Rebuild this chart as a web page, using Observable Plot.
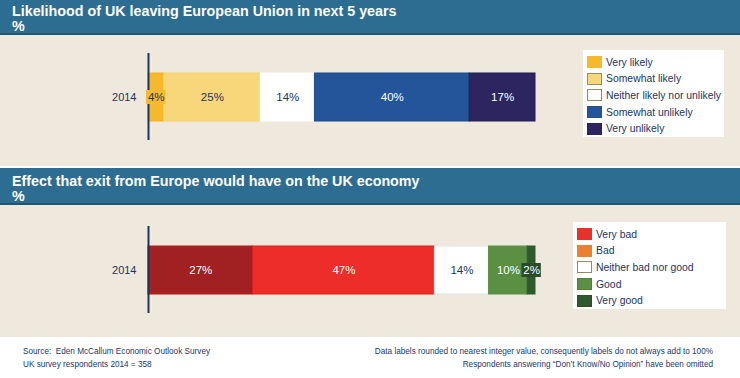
<!DOCTYPE html>
<html>
<head>
<meta charset="utf-8">
<script src="https://cdn.jsdelivr.net/npm/d3@7"></script>
<script src="https://cdn.jsdelivr.net/npm/@observablehq/plot@0.6"></script>
<style>
  html, body { margin: 0; padding: 0; }
  body { width: 740px; height: 378px; position: relative; overflow: hidden; background: #efe8dc; font-family: "Liberation Sans", Arial, sans-serif; }
  .band { position: absolute; left: 0; width: 740px; background: #2c6d91; border-bottom: 2px solid #1f5675; box-sizing: border-box; }
  .band .t { position: absolute; left: 12px; color: #fff; font-weight: bold; font-size: 14.3px; line-height: 15px; white-space: nowrap; }
  .chart { position: absolute; left: 0; }
  .legend { position: absolute; background: #fff; box-sizing: border-box; padding: 4px 0 0 4px; }
  .legend .row { display: flex; align-items: center; height: 16.6px; }
  .legend .sw { width: 13px; height: 10px; border: 1px solid; margin-right: 4px; flex: none; }
  .legend .lab { font-size: 10.4px; color: #1d3461; white-space: nowrap; }
  .footer { position: absolute; left: 0; top: 337px; width: 740px; height: 41px; background: #fff; }
  .footer div { position: absolute; font-size: 8.2px; line-height: 13px; color: #23386a; white-space: nowrap; }
</style>
</head>
<body>
<div class="band" style="top:0;height:35px;"><div class="t" style="top:4px;">Likelihood of UK leaving European Union in next 5 years<br>%</div></div>
<div style="position:absolute;left:0;top:166px;width:740px;height:2px;background:#fff;"></div>
<div class="band" style="top:168px;height:37px;"><div class="t" style="top:6px;">Effect that exit from Europe would have on the UK economy<br>%</div></div>
<div id="c1" class="chart" style="top:53px;"></div>
<div id="c2" class="chart" style="top:226px;"></div>
<div id="l1" class="legend" style="left:583px;top:50px;width:141px;height:87px;"></div>
<div id="l2" class="legend" style="left:573px;top:222px;width:153px;height:87px;"></div>
<div class="footer">
  <div style="left:23px;top:8px;">Source:&nbsp; Eden McCallum Economic Outlook Survey<br>UK survey respondents 2014 = 358</div>
  <div style="right:27px;top:8px;text-align:right;">Data labels rounded to nearest integer value, consequently labels do not always add to 100%<br>Respondents answering “Don’t Know/No Opinion” have been omitted</div>
</div>
<script>
// ---- data ----
const years = ["2014"];
const likelihoodCats = ["Very likely", "Somewhat likely", "Neither likely nor unlikely", "Somewhat unlikely", "Very unlikely"];
const likelihoodValues = [4, 25, 14, 40, 17];
const effectCats = ["Very bad", "Bad", "Neither bad nor good", "Good", "Very good"];
const effectValues = [27, 47, 14, 10, 2];

// ---- styles ----
const likelihoodBarColors = ["#f6b92c", "#f8d77a", "#ffffff", "#24559a", "#2c2560"];
const likelihoodBarStrokes = ["#f2b020", "#f3cf6c", "#ffffff", "#1d4a8c", "#221d52"];
const likelihoodTextColors = ["#1d3461", "#1d3461", "#1d3461", "#ffffff", "#ffffff"];
const likelihoodLegendColors = ["#f6b92c", "#f8d77a", "#ffffff", "#24559a", "#2c2560"];
const likelihoodLegendBorders = ["#f6b92c", "#8f8f62", "#8f8f62", "#2a4f86", "#2c2560"];

const effectBarColors = ["#a12122", "#ec2d2a", "#ffffff", "#5a8f44", "#2f5a2e"];
const effectBarStrokes = ["#c01818", "#e02020", "#e4e4e4", "#5a8f44", "#2f5a2e"];
const effectTextColors = ["#ffffff", "#ffffff", "#1d3461", "#ffffff", "#ffffff"];
const effectLegendColors = ["#e8302c", "#ea8030", "#ffffff", "#5a8f44", "#2f5a2e"];
const effectLegendBorders = ["#e8302c", "#ea8030", "#8f8f62", "#4f7f3b", "#2a4f29"];

function rowsFor(cats, vals, fills, strokes, texts) {
  let acc = 0;
  return cats.map((c, i) => {
    const r = {year: years[0], cat: c, value: vals[i], start: acc, end: acc + vals[i], mid: acc + vals[i] / 2,
      fill: fills[i], stroke: strokes[i], text: texts[i]};
    acc += vals[i];
    return r;
  });
}

function chart(rows, labelBoxColor) {
  const small = rows.filter(d => d.value < 5);
  return Plot.plot({
    width: 560, height: 87,
    marginLeft: 148, marginRight: 25, marginTop: 0, marginBottom: 0,
    x: {domain: [0, 100], axis: null},
    y: {domain: years, padding: 0.289, label: null, tickSize: 0, tickPadding: 12},
    color: {type: "identity"},
    style: {background: "transparent", fontFamily: "Liberation Sans, Arial, sans-serif", fontSize: "11px", color: "#1d3461"},
    marks: [
      Plot.barX(rows, {x1: "start", x2: "end", y: "year", fill: "fill", stroke: "stroke", strokeWidth: 1}),
      Plot.ruleX([0], {stroke: "#1d3461", strokeWidth: 2}),
      Plot.barX(small, {x1: d => d.mid - 2.5, x2: d => d.mid + 2.5, y: "year", fill: labelBoxColor, insetTop: 17, insetBottom: 17}),
      Plot.text(rows, {x: "mid", y: "year", text: d => d.value + "%", fill: "text", fontSize: 11.5})
    ]
  });
}

document.getElementById("c1").appendChild(
  chart(rowsFor(likelihoodCats, likelihoodValues, likelihoodBarColors, likelihoodBarStrokes, likelihoodTextColors), "#f5bb30"));
document.getElementById("c2").appendChild(
  chart(rowsFor(effectCats, effectValues, effectBarColors, effectBarStrokes, effectTextColors), "#2b4a2b"));

function legend(id, cats, colors, borders) {
  const el = document.getElementById(id);
  cats.forEach((c, i) => {
    const row = document.createElement("div");
    row.className = "row";
    row.innerHTML = `<div class="sw" style="background:${colors[i]};border-color:${borders[i]}"></div><div class="lab">${c}</div>`;
    el.appendChild(row);
  });
}
legend("l1", likelihoodCats, likelihoodLegendColors, likelihoodLegendBorders);
legend("l2", effectCats, effectLegendColors, effectLegendBorders);
</script>
</body>
</html>
